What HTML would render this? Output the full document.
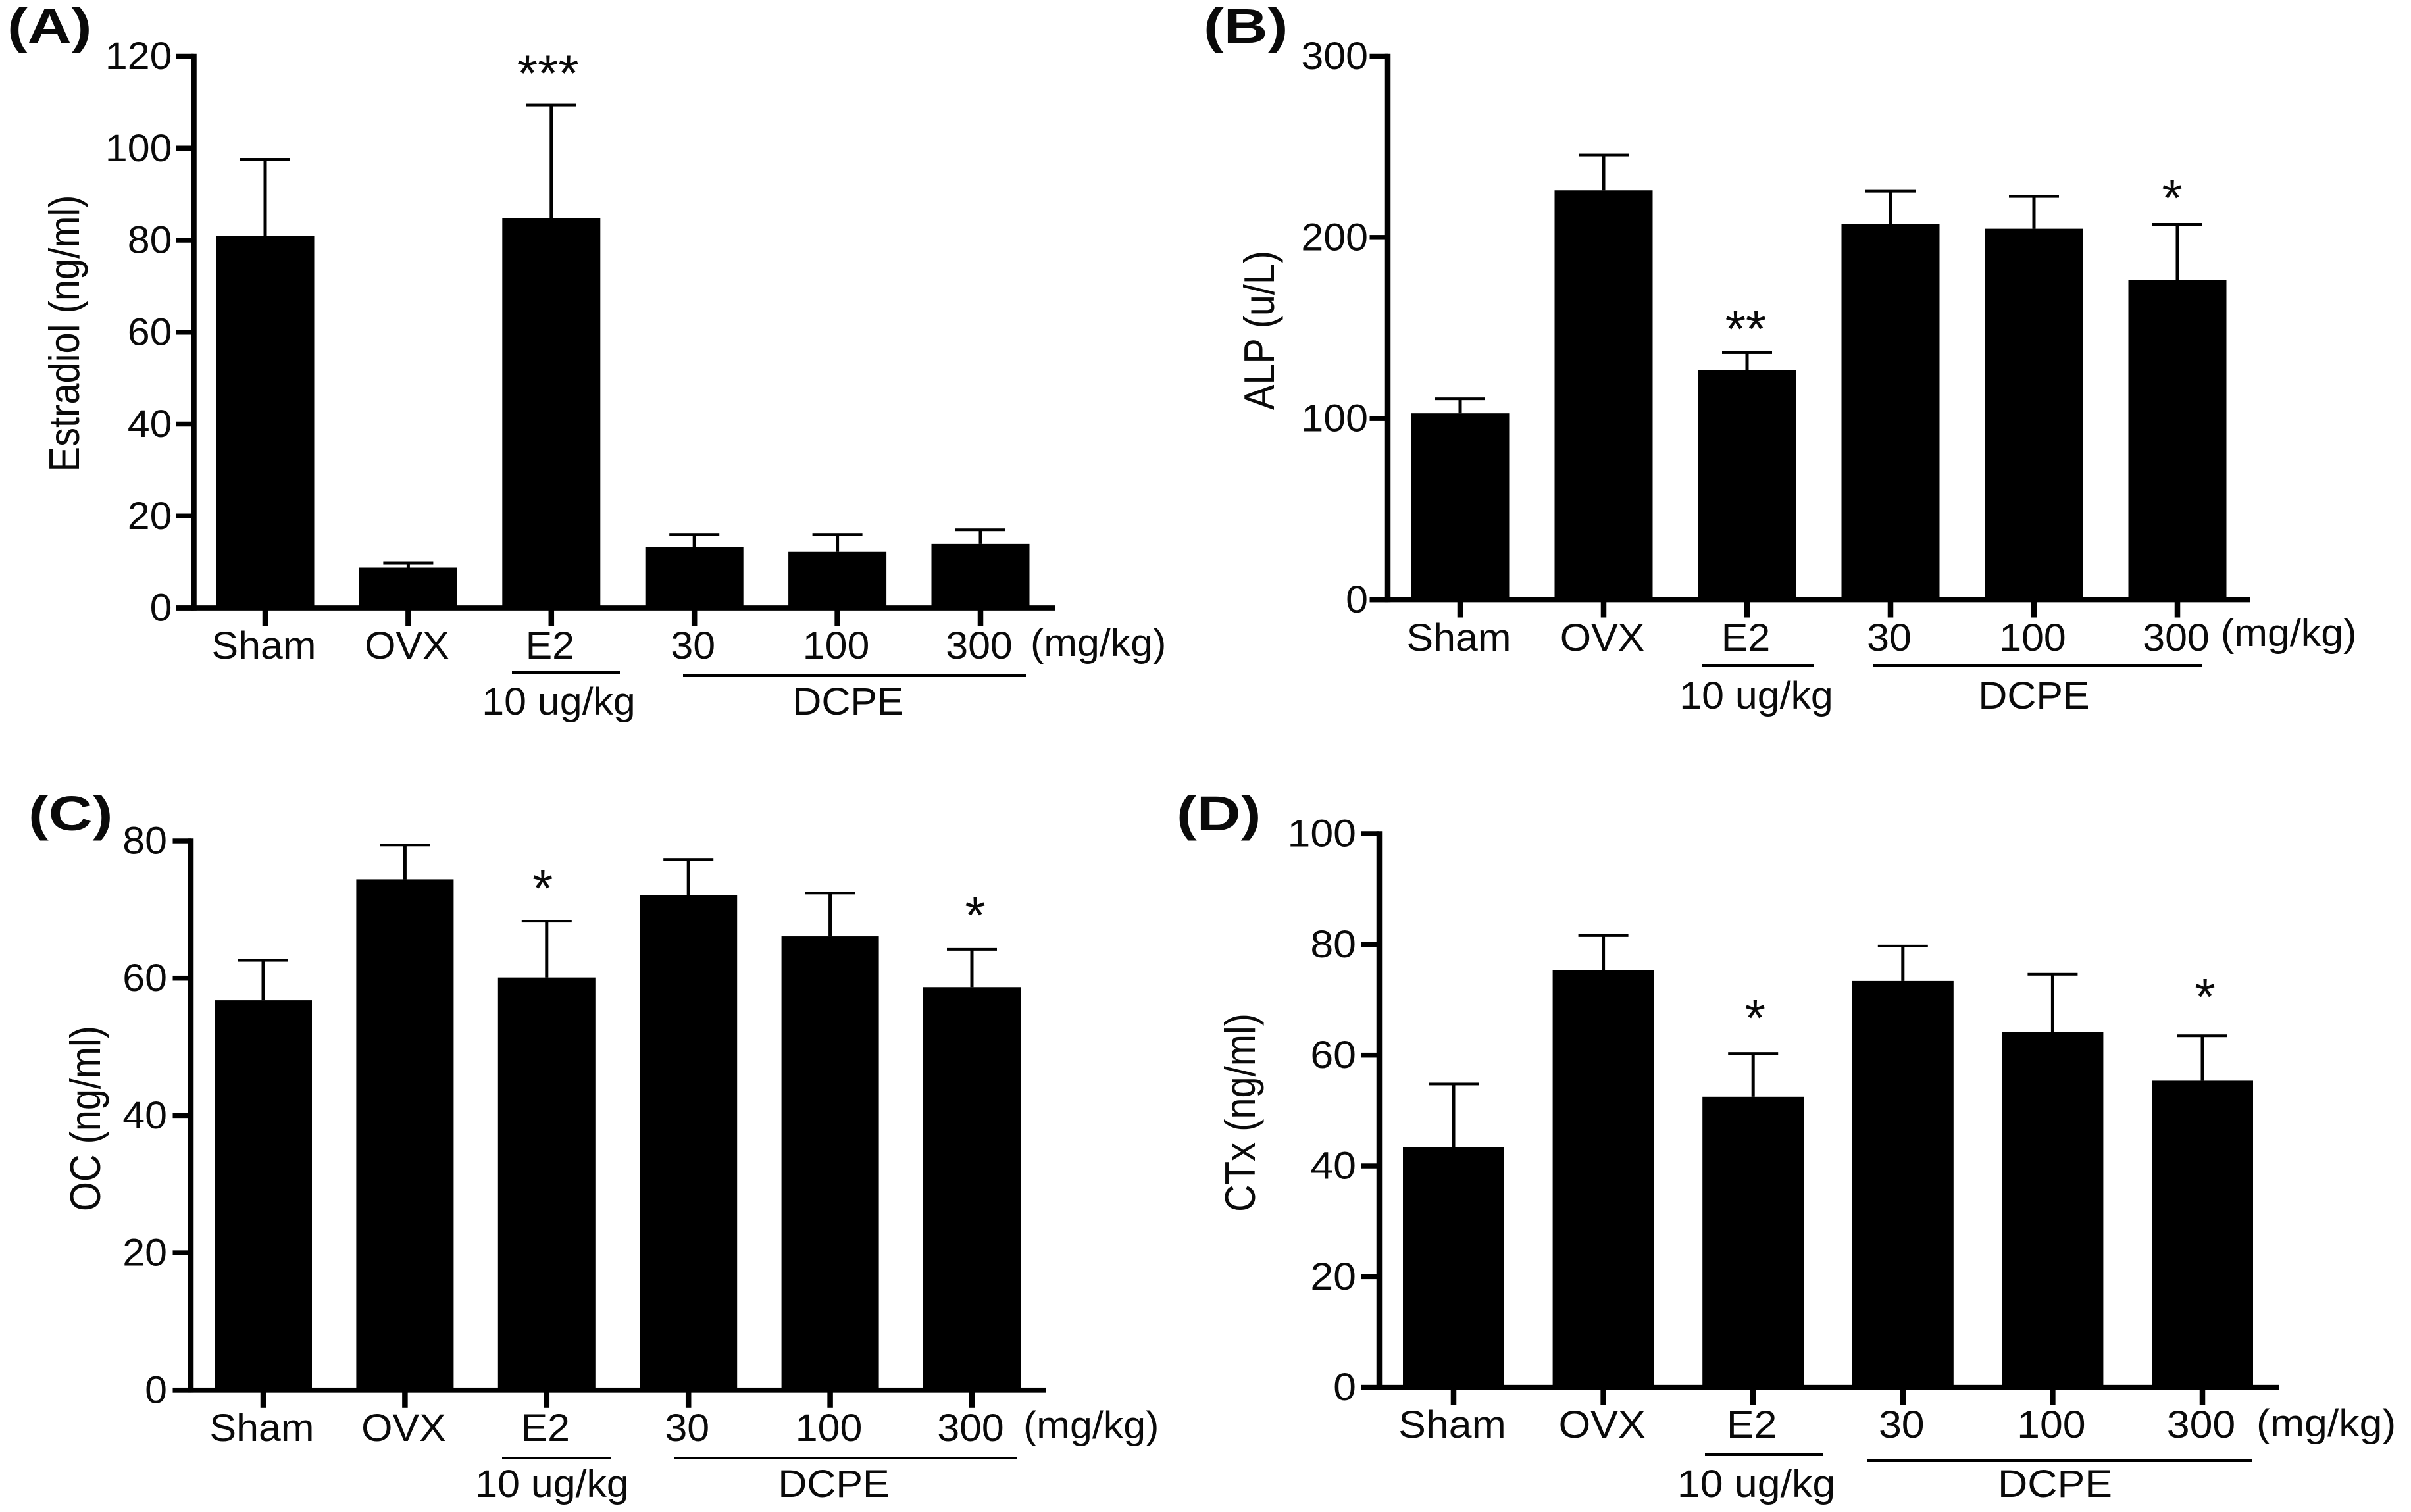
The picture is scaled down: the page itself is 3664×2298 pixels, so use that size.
<!DOCTYPE html>
<html lang="en">
<head>
<meta charset="utf-8">
<title>Bone turnover markers by treatment group</title>
<style>
html,body{margin:0;padding:0;background:#fff;width:3664px;height:2298px;overflow:hidden}
svg{display:block}
text{font-family:"Liberation Sans",Arial,sans-serif;fill:#0a0a0a}
</style>
</head>
<body>
<svg id="figure" xmlns="http://www.w3.org/2000/svg" width="3664" height="2298" viewBox="0 0 3664 2298"></svg>
<script>
const categories = ['Sham', 'OVX', 'E2', '30', '100', '300'];

const estradiolMeans = [81, 8.8, 84.8, 13.3, 12.2, 13.9];
const estradiolErrorTops = [97.6, 9.8, 109.4, 16, 16, 17];
const estradiolStars = ['', '', '***', '', '', ''];
const estradiolTicks = [0, 20, 40, 60, 80, 100, 120];

const alpMeans = [102.9, 226, 126.9, 207.4, 204.8, 176.6];
const alpErrorTops = [110.9, 245.5, 136.4, 225.5, 222.6, 207.2];
const alpStars = ['', '', '**', '', '', '*'];
const alpTicks = [0, 100, 200, 300];

const ocMeans = [56.8, 74.4, 60.1, 72.1, 66.1, 58.7];
const ocErrorTops = [62.6, 79.4, 68.3, 77.3, 72.4, 64.2];
const ocStars = ['', '', '*', '', '', '*'];
const ocTicks = [0, 20, 40, 60, 80];

const ctxMeans = [43.4, 75.3, 52.5, 73.4, 64.2, 55.4];
const ctxErrorTops = [54.8, 81.6, 60.3, 79.7, 74.6, 63.5];
const ctxStars = ['', '', '*', '', '', '*'];
const ctxTicks = [0, 20, 40, 60, 80, 100];

const panelA = {
  id: 'a', label: '(A)', labelX: 11, labelY: 65, title: 'Estradiol (ng/ml)',
  means: estradiolMeans, errs: estradiolErrorTops, stars: estradiolStars, ticks: estradiolTicks,
  axisX: 294.5, y0: 924, yTop: 85.5, xEnd: 1603, first: 403, step: 217.4, barW: 149, capW: 76,
  starGap: { 2: 60.5 }, starDx: { 2: -5 }, tickLabelGap: 33,
  titleX: 120, titleY: 507, titleLen: 421, catY: 1001, subY: 1086, doseX: 849, dcpeX: 1289,
  unitX: 1566, unitY: 997, e2Line: [778, 942, 1022], dcpeLine: [1038, 1559, 1027], sx: 1.05
};
const panelB = {
  id: 'b', label: '(B)', labelX: 1829, labelY: 65, title: 'ALP (u/L)',
  means: alpMeans, errs: alpErrorTops, stars: alpStars, ticks: alpTicks,
  axisX: 2109, y0: 911.5, yTop: 85.5, xEnd: 3419, first: 2219, step: 218, barW: 149, capW: 76,
  starGap: { 2: 48.5, 5: 52.5 }, starDx: { 2: -2, 5: -8 }, tickLabelGap: 30,
  titleX: 1936, titleY: 502, titleLen: 242, catY: 989, subY: 1077, doseX: 2669, dcpeX: 3091,
  unitX: 3375, unitY: 982, e2Line: [2587, 2757, 1011], dcpeLine: [2847, 3347, 1011], sx: 1.05
};
const panelC = {
  id: 'c', label: '(C)', labelX: 43, labelY: 1262, title: 'OC (ng/ml)',
  means: ocMeans, errs: ocErrorTops, stars: ocStars, ticks: ocTicks,
  axisX: 290, y0: 2112.8, yTop: 1278, xEnd: 1590, first: 400, step: 215.4, barW: 148, capW: 76,
  starGap: { 2: 62.5, 5: 64.5 }, starDx: { 2: -6, 5: 5 }, tickLabelGap: 36,
  titleX: 152, titleY: 1700, titleLen: 282, catY: 2190, subY: 2275, doseX: 839, dcpeX: 1267,
  unitX: 1555, unitY: 2186, e2Line: [763, 929, 2216], dcpeLine: [1024, 1545, 2216], sx: 1.05
};
const panelD = {
  id: 'd', label: '(D)', labelX: 1788, labelY: 1262, title: 'CTx (ng/ml)',
  means: ctxMeans, errs: ctxErrorTops, stars: ctxStars, ticks: ctxTicks,
  axisX: 2096, y0: 2108.7, yTop: 1267, xEnd: 3463, first: 2209, step: 227.6, barW: 154, capW: 76,
  starGap: { 2: 66.5, 5: 71.5 }, starDx: { 2: 3, 5: 4 }, tickLabelGap: 35,
  titleX: 1907, titleY: 1691, titleLen: 302, catY: 2185, subY: 2275, doseX: 2669, dcpeX: 3123,
  unitX: 3429, unitY: 2183, e2Line: [2591, 2770, 2211], dcpeLine: [2838, 3423, 2220], sx: 1.08
};

const NS = 'http://www.w3.org/2000/svg';
const FONT = 58;

function rect(parent, name, x, y, w, h) {
  const el = document.createElementNS(NS, 'rect');
  
  
  el.setAttribute('x', x);
  el.setAttribute('y', y);
  el.setAttribute('width', w);
  el.setAttribute('height', h);
  el.setAttribute('fill', '#000');
  parent.appendChild(el);
  return el;
}

function label(parent, name, str, x, y, sx, anchor, size, weight) {
  const el = document.createElementNS(NS, 'text');
  
  
  el.setAttribute('transform', 'translate(' + x + ' ' + y + ') scale(' + sx + ' 1)');
  el.setAttribute('text-anchor', anchor);
  el.setAttribute('font-size', size);
  if (weight) el.setAttribute('font-weight', weight);
  el.textContent = str;
  parent.appendChild(el);
  return el;
}

function drawPanel(p) {
  const svg = document.getElementById('figure');
  const g = document.createElementNS(NS, 'g');
  
  
  svg.appendChild(g);

  const maxTick = p.ticks[p.ticks.length - 1];
  const yScale = v => p.y0 - (v / maxTick) * (p.y0 - p.yTop);
  const xScale = i => p.first + i * p.step;

  label(g, 'panel-label', p.label, p.labelX, p.labelY, 1.25, 'start', 74, 'bold');

  // bars, error bars, significance marks
  p.means.forEach((m, i) => {
    const cx = xScale(i);
    const top = yScale(m);
    const errTop = yScale(p.errs[i]);
    rect(g, 'error-stem-' + categories[i], cx - 2.5, errTop, 5, top - errTop);
    rect(g, 'error-cap-' + categories[i], cx - p.capW / 2, errTop - 2, p.capW, 4);
    rect(g, 'bar-' + categories[i], cx - p.barW / 2, top, p.barW, p.y0 - top);
    if (p.stars[i]) {
      label(g, 'significance-' + categories[i], p.stars[i], cx + p.starDx[i], errTop - p.starGap[i] + 39, 1.03, 'middle', 78);
    }
    rect(g, 'x-tick-' + categories[i], cx - 4.25, p.y0, 8.5, 27);
    label(g, 'x-label-' + categories[i], categories[i], cx - 2, p.catY, p.sx, 'middle', FONT);
  });

  // axes
  rect(g, 'y-axis-line', p.axisX - 4.25, p.yTop - 3.75, 8.5, p.y0 - p.yTop + 7.5);
  rect(g, 'x-axis-line', p.axisX - 27.5, p.y0 - 3.85, p.xEnd - p.axisX + 27.5, 7.7);

  p.ticks.forEach(t => {
    const y = yScale(t);
    rect(g, 'y-tick-' + t, p.axisX - 27.5, y - 3.75, 27.5, 7.5);
    label(g, 'y-tick-label-' + t, String(t), p.axisX - p.tickLabelGap, y + 19.5, p.sx, 'end', FONT);
  });

  // y-axis title
  const title = document.createElementNS(NS, 'text');
  
  
  title.setAttribute('transform', 'translate(' + p.titleX + ' ' + p.titleY + ') rotate(-90)');
  title.setAttribute('text-anchor', 'middle');
  title.setAttribute('font-size', 65);
  title.setAttribute('textLength', p.titleLen);
  title.setAttribute('lengthAdjust', 'spacingAndGlyphs');
  title.textContent = p.title;
  g.appendChild(title);

  // group annotations
  label(g, 'unit-label', '(mg/kg)', p.unitX, p.unitY, p.sx, 'start', FONT);
  rect(g, 'e2-underline', p.e2Line[0], p.e2Line[2] - 2, p.e2Line[1] - p.e2Line[0], 4);
  rect(g, 'dcpe-underline', p.dcpeLine[0], p.dcpeLine[2] - 2, p.dcpeLine[1] - p.dcpeLine[0], 4);
  label(g, 'e2-dose-label', '10 ug/kg', p.doseX, p.subY, p.sx, 'middle', FONT);
  label(g, 'dcpe-label', 'DCPE', p.dcpeX, p.subY, p.sx, 'middle', FONT);
}

drawPanel(panelA);
drawPanel(panelB);
drawPanel(panelC);
drawPanel(panelD);
</script>
</body>
</html>
